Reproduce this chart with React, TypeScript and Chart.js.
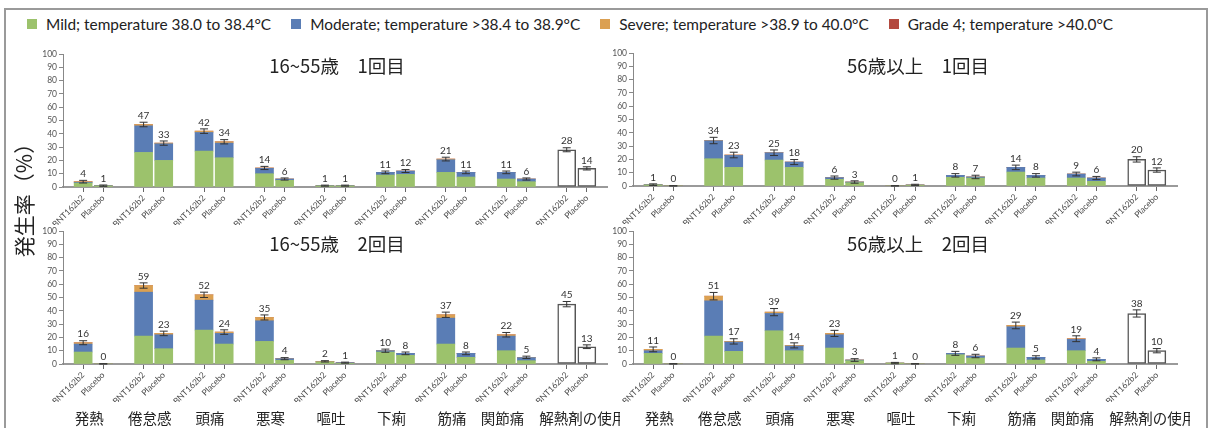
import React, { useEffect, useRef } from "react";
import { Chart, registerables } from "chart.js";

Chart.register(...registerables);

// ---------------- data ----------------
const categories = ["発熱", "倦怠感", "頭痛", "悪寒", "嘔吐", "下痢", "筋痛", "関節痛", "解熱剤の使用"];
const arms = ["BNT162b2", "Placebo"];
const legendLabels = [
  "Mild; temperature 38.0 to 38.4°C",
  "Moderate; temperature >38.4 to 38.9°C",
  "Severe; temperature >38.9 to 40.0°C",
  "Grade 4; temperature >40.0°C",
];
const severityColors = ["#9cc26c", "#5a7db5", "#dba052", "#b3493f"];
const yAxisTitle = "発生率（%）";

// values are [cat BNT162b2, cat Placebo] for the first 8 categories
// 16-55 years, dose 1
const mildYoungD1 = [3, 0.8, 26, 20, 27, 22, 10, 5, 0.8, 0.8, 9, 9.5, 11, 7.5, 6, 4];
const moderateYoungD1 = [0.5, 0.2, 20, 12.5, 14, 11, 4, 1, 0.2, 0.2, 2, 2.5, 9.5, 3.5, 5, 2];
const severeYoungD1 = [0.5, 0, 1, 0.5, 1, 1, 0.3, 0, 0, 0, 0, 0, 0.5, 0, 0, 0];
const grade4YoungD1 = [0, 0, 0, 0, 0, 0, 0, 0, 0, 0, 0, 0, 0, 0, 0, 0];
const antipyreticYoungD1 = [28, 14];
const labelsYoungD1 = [4, 1, 47, 33, 42, 34, 14, 6, 1, 1, 11, 12, 21, 11, 11, 6, 28, 14];
const ciYoungD1 = [1, 0.5, 1.7, 1.6, 1.7, 1.6, 1.2, 0.8, 0.4, 0.4, 1, 1.1, 1.4, 1, 1, 0.8, 1.5, 1.2];

// 56+ years, dose 1
const mildOldD1 = [0.8, 0, 20.5, 14, 19.5, 14, 5, 2.5, 0, 0.6, 6.5, 6, 10.5, 6, 6, 3.5];
const moderateOldD1 = [0.2, 0, 13.5, 9, 5.5, 4, 1.3, 0.5, 0, 0.2, 1.5, 0.8, 3.5, 2, 3, 2.5];
const severeOldD1 = [0, 0, 0.2, 0.3, 0, 0, 0, 0, 0, 0, 0, 0, 0, 0, 0, 0];
const grade4OldD1 = [0, 0, 0, 0, 0, 0, 0, 0, 0, 0, 0, 0, 0, 0, 0, 0];
const antipyreticOldD1 = [20, 12];
const labelsOldD1 = [1, 0, 34, 23, 25, 18, 6, 3, 0, 1, 8, 7, 14, 8, 9, 6, 20, 12];
const ciOldD1 = [0.6, 0.2, 2.4, 2.1, 2.1, 1.9, 1.2, 0.9, 0.2, 0.5, 1.3, 1.3, 1.7, 1.3, 1.4, 1.2, 2, 1.6];

// 16-55 years, dose 2
const mildYoungD2 = [9, 0, 21, 11.5, 25.5, 15, 17, 2.8, 1.5, 0.5, 9, 6.5, 15, 5, 10, 2.5];
const moderateYoungD2 = [6, 0, 33, 10.5, 22.5, 8, 15.5, 1.2, 0, 0.5, 1, 1.5, 19.5, 3, 11, 2.3];
const severeYoungD2 = [1, 0, 5, 1, 4, 1, 2.5, 0, 0.5, 0, 0, 0, 2.5, 0, 1, 0.2];
const grade4YoungD2 = [0, 0, 0, 0, 0, 0, 0, 0, 0, 0, 0, 0, 0, 0, 0, 0];
const antipyreticYoungD2 = [45, 13];
const labelsYoungD2 = [16, 0, 59, 23, 52, 24, 35, 4, 2, 1, 10, 8, 37, 8, 22, 5, 45, 13];
const ciYoungD2 = [1.5, 0.2, 2, 1.7, 2, 1.7, 1.9, 0.8, 0.5, 0.4, 1.2, 1, 2, 1, 1.7, 0.9, 2, 1.4];

// 56+ years, dose 2
const mildOldD2 = [8, 0, 21, 9.5, 25, 10, 12, 2.5, 0.7, 0, 7, 4.5, 12, 3, 10, 2];
const moderateOldD2 = [2, 0, 26.5, 7, 13, 3.5, 10, 0.5, 0, 0, 1, 1.5, 16, 2, 8.5, 1.5];
const severeOldD2 = [1, 0, 3.5, 0.5, 1, 0.5, 1, 0, 0, 0, 0, 0, 1, 0, 0.5, 0];
const grade4OldD2 = [0, 0, 0, 0, 0, 0, 0, 0, 0, 0, 0, 0, 0, 0, 0, 0];
const antipyreticOldD2 = [38, 10];
const labelsOldD2 = [11, 0, 51, 17, 39, 14, 23, 3, 1, 0, 8, 6, 29, 5, 19, 4, 38, 10];
const ciOldD2 = [1.8, 0.2, 2.8, 2, 2.7, 1.9, 2.3, 1, 0.5, 0.2, 1.5, 1.3, 2.5, 1.2, 2.2, 1.1, 2.7, 1.6];

// ---------------- helpers ----------------
const SANS = "Lato, 'Noto Sans', sans-serif";
const JP = "'Noto Sans CJK JP', 'Noto Sans', sans-serif";

// bar i (0..17) -> position on a linear axis with 3 units per category
const barX = (i: number) => 3 * Math.floor(i / 2) + 1 + (i % 2);
const barPositions = Array.from({ length: categories.length * 2 }, (_, i) => barX(i));

type PanelData = {
  title: string;
  series: number[][];
  antipyretic: number[];
  labels: number[];
  ci: number[];
  showCategories: boolean;
};

const errorBarPlugin = {
  id: "errorBars",
  afterDatasetsDraw(chart: any, _args: any, opts: any) {
    const { ctx } = chart;
    const xs = chart.scales.x;
    const ys = chart.scales.y;
    const tops: number[] = opts.tops || [];
    ctx.save();
    tops.forEach((top: number, i: number) => {
      const ci = opts.ci[i];
      const x = xs.getPixelForValue(barX(i));
      const yHi = ys.getPixelForValue(top + ci);
      const yLo = ys.getPixelForValue(Math.max(0, top - ci));
      ctx.strokeStyle = "#333";
      ctx.lineWidth = 1;
      ctx.beginPath();
      ctx.moveTo(x, yHi);
      ctx.lineTo(x, yLo);
      ctx.moveTo(x - 4, yHi);
      ctx.lineTo(x + 4, yHi);
      ctx.moveTo(x - 4, yLo);
      ctx.lineTo(x + 4, yLo);
      ctx.stroke();
      ctx.fillStyle = "#333";
      ctx.font = `10px ${SANS}`;
      ctx.textAlign = "center";
      ctx.textBaseline = "bottom";
      ctx.fillText(String(opts.labels[i]), x, yHi - 1.5);
    });
    ctx.restore();
  },
};

// category names under the bar groups, pushed apart when they would collide
const categoryLabelPlugin = {
  id: "categoryLabels",
  afterDraw(chart: any, _args: any, opts: any) {
    if (!opts.show) return;
    const { ctx } = chart;
    const xs = chart.scales.x;
    ctx.save();
    ctx.font = `14.5px ${JP}`;
    ctx.fillStyle = "#222";
    ctx.textAlign = "center";
    ctx.textBaseline = "middle";
    const items = categories.map((c, k) => {
      const w = ctx.measureText(c).width;
      return { c, w, x: xs.getPixelForValue(3 * k + 1.5) - 4 };
    });
    const gap = 15;
    for (let k = 1; k < items.length; k++) {
      const a = items[k - 1];
      const b = items[k];
      const overlap = a.x + a.w / 2 + gap - (b.x - b.w / 2);
      if (overlap > 0) {
        a.x -= overlap / 2;
        b.x += overlap / 2;
      }
    }
    const y = chart.chartArea.bottom + 38 + 16;
    items.forEach((it) => ctx.fillText(it.c, it.x, y));
    ctx.restore();
  },
};

function Panel({ p, width, height }: { p: PanelData; width: number; height: number }) {
  const ref = useRef<HTMLCanvasElement>(null);
  useEffect(() => {
    const canvas = ref.current;
    if (!canvas) return;
    const datasets: any[] = p.series.map((arr, k) => ({
      label: legendLabels[k],
      data: arr.map((v, i) => ({ x: barX(i), y: v })),
      backgroundColor: severityColors[k],
      borderWidth: 0,
      barThickness: 18,
    }));
    datasets.push({
      label: categories[8],
      data: p.antipyretic.map((v, j) => ({ x: barX(16 + j), y: v })),
      backgroundColor: "#ffffff",
      borderColor: "#555",
      borderWidth: 1.5,
      borderSkipped: false,
      barThickness: 18,
    });
    const tops = [
      ...p.series[0].map((_, i) => p.series.reduce((s, arr) => s + arr[i], 0)),
      ...p.antipyretic,
    ];
    const scales: any = {
      x: {
        type: "linear",
        min: 0,
        max: categories.length * 3,
        stacked: true,
        offset: false,
        afterBuildTicks: (s: any) => {
          s.ticks = barPositions.map((v) => ({ value: v }));
        },
        afterFit: (s: any) => {
          s.height = 38;
        },
        grid: { offset: false, drawOnChartArea: false, drawTicks: true, tickLength: 5, color: "#666", lineWidth: 1 },
        border: { color: "#9a9a9a", width: 2 },
        ticks: {
          autoSkip: false,
          minRotation: 45,
          maxRotation: 45,
          padding: 1,
          color: "#4a4a4a",
          font: { family: SANS, size: 8.5 },
          callback: (v: number) => arms[(Math.round(v) - 1) % 3],
        },
      },
      y: {
        stacked: true,
        min: 0,
        max: 100,
        afterFit: (s: any) => {
          s.width = 33;
        },
        ticks: { stepSize: 10, color: "#555", padding: 2, font: { family: SANS, size: 8.5 } },
        grid: { drawOnChartArea: false, tickLength: 4, color: "#888" },
        border: { color: "#888", width: 1 },
      },
    };
    const chart = new Chart(canvas, {
      type: "bar",
      data: { datasets },
      options: {
        animation: false,
        responsive: false,
        devicePixelRatio: 1,
        layout: { padding: { top: 9, right: 13, left: 0, bottom: p.showCategories ? 26 : 0 } },
        plugins: {
          legend: { display: false },
          tooltip: { enabled: false },
          errorBars: { tops, ci: p.ci, labels: p.labels },
          categoryLabels: { show: p.showCategories },
        } as any,
        scales,
      },
      plugins: [errorBarPlugin, categoryLabelPlugin],
    });
    return () => chart.destroy();
  }, [p, width, height]);
  return <canvas ref={ref} width={width} height={height} style={{ display: "block" }} />;
}

const panels: { p: PanelData; left: number; top: number; w: number; h: number; tx: number; ty: number }[] = [
  {
    p: {
      title: "16~55歳　1回目",
      series: [mildYoungD1, moderateYoungD1, severeYoungD1, grade4YoungD1],
      antipyretic: antipyreticYoungD1,
      labels: labelsYoungD1,
      ci: ciYoungD1,
      showCategories: false,
    },
    left: 30, top: 45, w: 590, h: 180, tx: 337, ty: 65,
  },
  {
    p: {
      title: "56歳以上　1回目",
      series: [mildOldD1, moderateOldD1, severeOldD1, grade4OldD1],
      antipyretic: antipyreticOldD1,
      labels: labelsOldD1,
      ci: ciOldD1,
      showCategories: false,
    },
    left: 600, top: 44, w: 590, h: 180, tx: 918, ty: 65,
  },
  {
    p: {
      title: "16~55歳　2回目",
      series: [mildYoungD2, moderateYoungD2, severeYoungD2, grade4YoungD2],
      antipyretic: antipyreticYoungD2,
      labels: labelsYoungD2,
      ci: ciYoungD2,
      showCategories: true,
    },
    left: 30, top: 222, w: 590, h: 206, tx: 337, ty: 243,
  },
  {
    p: {
      title: "56歳以上　2回目",
      series: [mildOldD2, moderateOldD2, severeOldD2, grade4OldD2],
      antipyretic: antipyreticOldD2,
      labels: labelsOldD2,
      ci: ciOldD2,
      showCategories: true,
    },
    left: 600, top: 222, w: 590, h: 206, tx: 918, ty: 243,
  },
];

export default function App() {
  return (
    <div
      style={{
        position: "absolute",
        left: 0,
        top: 0,
        width: 1212,
        height: 428,
        background: "#fff",
        overflow: "hidden",
      }}
    >
      <div
        style={{
          position: "absolute",
          left: 4,
          top: 8,
          width: 1200,
          height: 440,
          border: "2px solid #9a9a9a",
        }}
      />
      <div
        style={{
          position: "absolute",
          left: 27,
          top: 15,
          display: "flex",
          alignItems: "center",
          gap: 20,
          fontFamily: SANS,
          fontSize: 15.4,
          color: "#222",
          whiteSpace: "nowrap",
          lineHeight: "18px",
        }}
      >
        {legendLabels.map((l, k) => (
          <div key={l} style={{ display: "flex", alignItems: "center" }}>
            <span
              style={{ display: "inline-block", width: 10, height: 10, background: severityColors[k], marginRight: 9 }}
            />
            <span>{l}</span>
          </div>
        ))}
      </div>
      {panels.map((pn) => (
        <div key={pn.p.title} style={{ position: "absolute", left: pn.left, top: pn.top, width: pn.w, height: pn.h }}>
          <Panel p={pn.p} width={pn.w} height={pn.h} />
        </div>
      ))}
      {panels.map((pn) => (
        <div
          key={pn.p.title + "t"}
          style={{
            position: "absolute",
            left: pn.tx - 100,
            top: pn.ty - 12,
            width: 200,
            height: 24,
            lineHeight: "24px",
            textAlign: "center",
            fontFamily: JP,
            fontSize: 18.5,
            color: "#222",
            whiteSpace: "pre",
          }}
        >
          {pn.p.title}
        </div>
      ))}
      <div
        style={{
          position: "absolute",
          left: 23 - 80,
          top: 195 - 14,
          width: 160,
          height: 28,
          lineHeight: "28px",
          textAlign: "center",
          transform: "rotate(-90deg)",
          fontFamily: JP,
          fontSize: 21,
          color: "#222",
        }}
      >
        {yAxisTitle}
      </div>
    </div>
  );
}
